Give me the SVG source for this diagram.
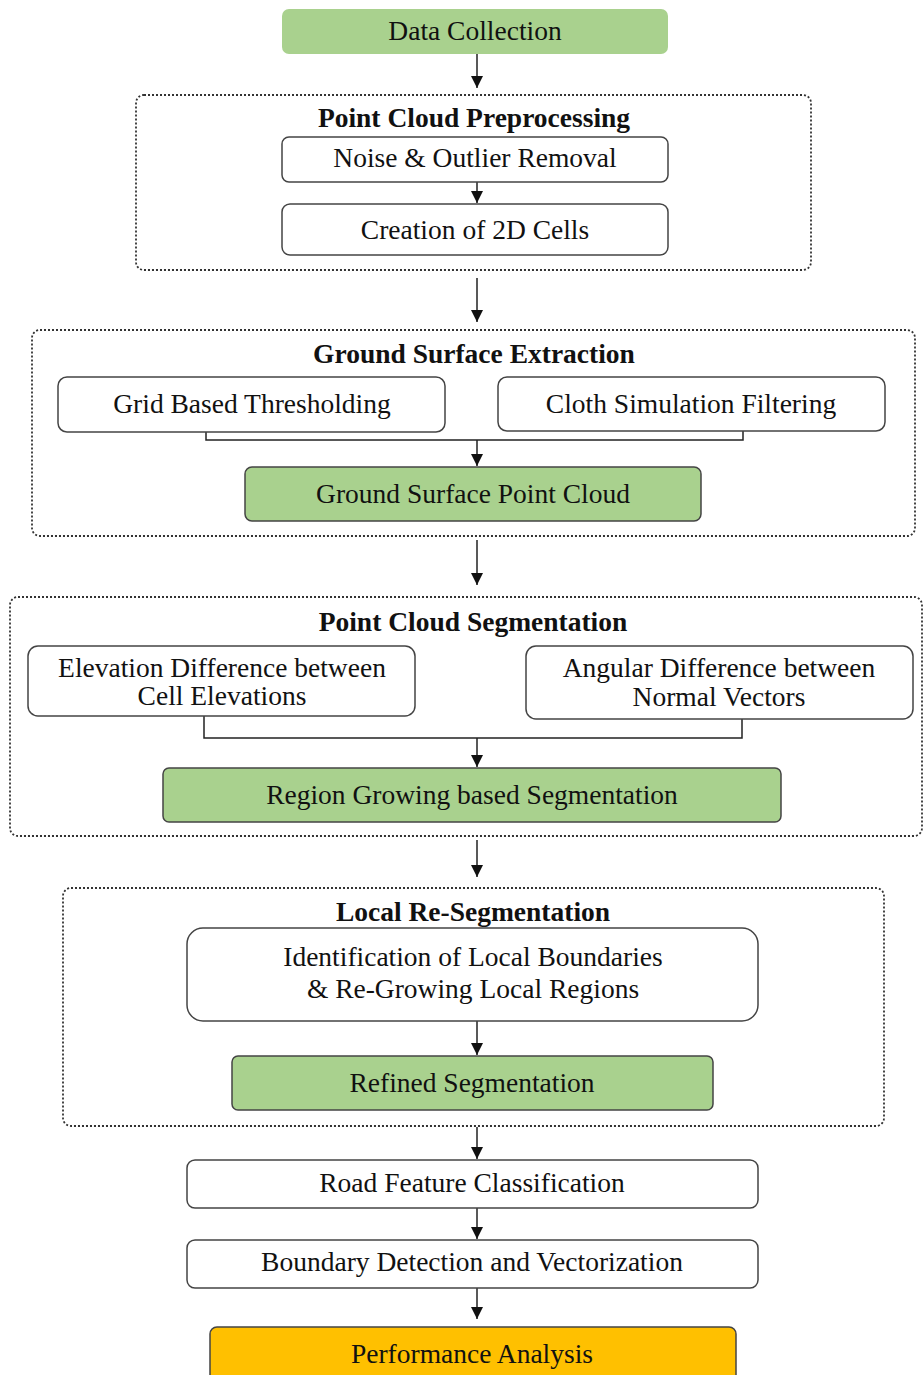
<svg xmlns="http://www.w3.org/2000/svg" width="924" height="1375" viewBox="0 0 924 1375">
<style>
text{font-family:"Liberation Serif","Times New Roman",serif;font-size:27.5px;fill:#111;text-anchor:middle;dominant-baseline:central}
.t{font-weight:bold}
.grp{fill:none;stroke:#333;stroke-width:1.8;stroke-dasharray:2 2}
.box{fill:#fff;stroke:#444;stroke-width:1.5}
.g{fill:#a9d18e;stroke:#444;stroke-width:1.5}
.y{fill:#ffc000;stroke:#444;stroke-width:1.5}
.c{fill:none;stroke:#222;stroke-width:1.5}
</style>
<defs>
<marker id="a" viewBox="0 0 10 10" refX="10" refY="5" markerWidth="12" markerHeight="12" markerUnits="userSpaceOnUse" orient="auto">
<path d="M0,0 L10,5 L0,10 z" fill="#111"/>
</marker>
</defs>
<g id="containers">
<rect id="preprocessing" class="grp" x="136" y="95" width="675" height="175" rx="8"/>
<text class="t" x="474" y="117">Point Cloud Preprocessing</text>
<rect id="ground" class="grp" x="32" y="330" width="883" height="206" rx="8"/>
<text class="t" x="474" y="353">Ground Surface Extraction</text>
<rect id="segmentation" class="grp" x="10" y="597" width="912" height="239" rx="8"/>
<text class="t" x="473" y="621">Point Cloud Segmentation</text>
<rect id="local" class="grp" x="63" y="888" width="821" height="238" rx="8"/>
<text class="t" x="473" y="911">Local Re-Segmentation</text>
</g>
<g id="connectors">
<line class="c" x1="477" y1="54" x2="477" y2="88" marker-end="url(#a)"/>
<line class="c" x1="477" y1="182" x2="477" y2="203" marker-end="url(#a)"/>
<line class="c" x1="477" y1="278" x2="477" y2="322" marker-end="url(#a)"/>
<polyline class="c" points="206,432 206,440 743,440 743,431"/>
<line class="c" x1="477" y1="440" x2="477" y2="466" marker-end="url(#a)"/>
<line class="c" x1="477" y1="540" x2="477" y2="585" marker-end="url(#a)"/>
<polyline class="c" points="204,716 204,738 742,738 742,719"/>
<line class="c" x1="477" y1="738" x2="477" y2="767" marker-end="url(#a)"/>
<line class="c" x1="477" y1="840" x2="477" y2="877" marker-end="url(#a)"/>
<line class="c" x1="477" y1="1021" x2="477" y2="1055" marker-end="url(#a)"/>
<line class="c" x1="477" y1="1127" x2="477" y2="1159" marker-end="url(#a)"/>
<line class="c" x1="477" y1="1208" x2="477" y2="1239" marker-end="url(#a)"/>
<line class="c" x1="477" y1="1288" x2="477" y2="1319" marker-end="url(#a)"/>
</g>
<g id="data-collection"><rect x="282" y="9" width="386" height="45" rx="7" fill="#a9d18e"/><text x="475" y="30">Data Collection</text></g>
<g id="noise"><rect class="box" x="282" y="137" width="386" height="45" rx="7" stroke="#999"/><text x="475" y="157">Noise &amp; Outlier Removal</text></g>
<g id="cells"><rect class="box" x="282" y="204" width="386" height="51" rx="8"/><text x="475" y="229">Creation of 2D Cells</text></g>
<g id="grid"><rect class="box" x="58" y="377" width="387" height="55" rx="9"/><text x="252" y="403">Grid Based Thresholding</text></g>
<g id="cloth"><rect class="box" x="498" y="377" width="387" height="54" rx="9"/><text x="691" y="403">Cloth Simulation Filtering</text></g>
<g id="ground-pc"><rect class="g" x="245" y="467" width="456" height="54" rx="7"/><text x="473" y="493">Ground Surface Point Cloud</text></g>
<g id="elevation"><rect class="box" x="28" y="646" width="387" height="70" rx="10"/><text x="222" y="667">Elevation Difference between</text><text x="222" y="695">Cell Elevations</text></g>
<g id="angular"><rect class="box" x="526" y="646" width="387" height="73" rx="10"/><text x="719" y="667">Angular Difference between</text><text x="719" y="696">Normal Vectors</text></g>
<g id="region-growing"><rect class="g" x="163" y="768" width="618" height="54" rx="6"/><text x="472" y="794">Region Growing based Segmentation</text></g>
<g id="identification"><rect class="box" x="187" y="928" width="571" height="93" rx="16"/><text x="473" y="956">Identification of Local Boundaries</text><text x="473" y="988">&amp; Re-Growing Local Regions</text></g>
<g id="refined"><rect class="g" x="232" y="1056" width="481" height="54" rx="6"/><text x="472" y="1082">Refined Segmentation</text></g>
<g id="road"><rect class="box" x="187" y="1160" width="571" height="48" rx="8"/><text x="472" y="1182">Road Feature Classification</text></g>
<g id="boundary"><rect class="box" x="187" y="1240" width="571" height="48" rx="8"/><text x="472" y="1261">Boundary Detection and Vectorization</text></g>
<g id="performance"><rect class="y" x="210" y="1327" width="526" height="60" rx="7"/><text x="472" y="1353">Performance Analysis</text></g>
</svg>
